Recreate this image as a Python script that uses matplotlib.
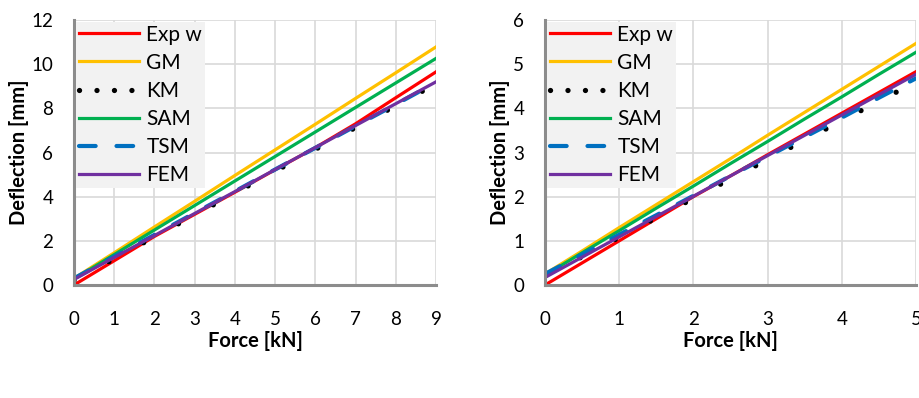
import matplotlib
matplotlib.use("Agg")
import matplotlib.pyplot as plt
from matplotlib.lines import Line2D

plt.rcParams['font.family'] = ['Lato', 'DejaVu Sans']

# left panel data (force in kN, deflection in mm)
force_l = [0, 1, 2, 3, 4, 5, 6, 7, 8, 9]
exp_force_l = [0, 1, 2, 3, 4, 5, 6, 6.5, 7, 8, 9]
exp_l = [0, 1.1, 2.2, 3.2, 4.2, 5.22, 6.22, 6.76, 7.3, 8.48, 9.65]
gm_l = [0.3, 1.46, 2.63, 3.79, 4.96, 6.12, 7.28, 8.45, 9.61, 10.78]
km_l = [0.2, 1.19, 2.18, 3.17, 4.16, 5.15, 6.14, 7.13, 8.12, 9.11]
sam_l = [0.27, 1.38, 2.49, 3.6, 4.71, 5.82, 6.93, 8.04, 9.15, 10.26]
tsm_l = [0.3, 1.29, 2.27, 3.26, 4.24, 5.23, 6.21, 7.2, 8.18, 9.17]
fem_l = [0.25, 1.25, 2.24, 3.24, 4.23, 5.23, 6.22, 7.22, 8.21, 9.2]

# right panel data
force_r = [0, 0.5, 1, 1.5, 2, 2.5, 3, 3.5, 4, 4.5, 5]
exp_r = [0, 0.5, 1.0, 1.5, 2.0, 2.47, 2.95, 3.42, 3.89, 4.36, 4.83]
gm_r = [0.25, 0.77, 1.3, 1.82, 2.34, 2.86, 3.39, 3.91, 4.43, 4.95, 5.47]
km_r = [0.2, 0.64, 1.08, 1.52, 1.96, 2.4, 2.84, 3.28, 3.72, 4.16, 4.6]
sam_r = [0.22, 0.73, 1.23, 1.74, 2.24, 2.75, 3.25, 3.76, 4.26, 4.77, 5.27]
tsm_r = [0.25, 0.69, 1.14, 1.58, 2.02, 2.47, 2.91, 3.35, 3.79, 4.24, 4.68]
fem_r = [0.17, 0.63, 1.09, 1.55, 2.01, 2.47, 2.93, 3.39, 3.85, 4.31, 4.77]

labels = ['Exp w', 'GM', 'KM', 'SAM', 'TSM', 'FEM']
colors = ['#ff0000', '#ffc000', '#000000', '#00b050', '#0070c0', '#7030a0']

fig = plt.figure(figsize=(9.2, 3.98), dpi=100)
ax1 = fig.add_axes([74/920, 113/398, 362/920, 265/398])
ax2 = fig.add_axes([545/920, 113/398, 371/920, 265/398])


def draw(ax, fx, fexp, series, xmax, ymax, ystep):
    exp, gm, km, sam, tsm, fem = series
    lw = 2.3
    ax.plot(fexp, exp, color=colors[0], lw=lw)
    ax.plot(fx, gm, color=colors[1], lw=lw)
    ax.plot(fx, km, color=colors[2], lw=3.8, linestyle=(0, (0.01, 7.5)),
            dash_capstyle='round')
    ax.plot(fx, sam, color=colors[3], lw=lw)
    ax.plot(fx, tsm, color=colors[4], lw=3.0, linestyle=(0, (4, 5)),
            dash_capstyle='round')
    ax.plot(fx, fem, color=colors[5], lw=lw)

    ax.set_xlim(0, xmax)
    ax.set_ylim(0, ymax)
    ax.set_xticks(range(0, xmax + 1))
    ax.set_yticks(range(0, ymax + 1, ystep))
    ax.grid(True, color='#d9d9d9', lw=1.2)
    ax.set_axisbelow(True)
    for s in ['top', 'right']:
        ax.spines[s].set_visible(False)
    for s in ['left', 'bottom']:
        ax.spines[s].set_color('#8c8c8c')
        ax.spines[s].set_linewidth(2.2)
    ax.tick_params(length=0, labelsize=13.5)
    ax.tick_params(axis='x', pad=19)
    ax.tick_params(axis='y', pad=15)
    ax.set_xlabel('Force [kN]', fontsize=14.5, fontweight='bold', labelpad=2)
    ax.set_ylabel('Deflection [mm]', fontsize=14.5, fontweight='bold', labelpad=2)

    handles = [
        Line2D([], [], color=colors[0], lw=lw),
        Line2D([], [], color=colors[1], lw=lw),
        Line2D([], [], color=colors[2], lw=3.8, linestyle=(0, (0.01, 3.3)),
               dash_capstyle='round'),
        Line2D([], [], color=colors[3], lw=lw),
        Line2D([], [], color=colors[4], lw=3.0, linestyle=(0, (4, 5)),
               dash_capstyle='round'),
        Line2D([], [], color=colors[5], lw=lw),
    ]
    leg = ax.legend(handles, labels, loc='upper left', fontsize=15,
                    frameon=True, fancybox=False, framealpha=1,
                    facecolor='#f2f2f2', edgecolor='none',
                    handlelength=2.9, handletextpad=0.35, labelspacing=0.39,
                    borderpad=0.12, borderaxespad=0.1)
    leg.get_frame().set_linewidth(0)


draw(ax1, force_l, exp_force_l, [exp_l, gm_l, km_l, sam_l, tsm_l, fem_l], 9, 12, 2)
draw(ax2, force_r, force_r, [exp_r, gm_r, km_r, sam_r, tsm_r, fem_r], 5, 6, 1)

fig.savefig('out.png', dpi=100)
